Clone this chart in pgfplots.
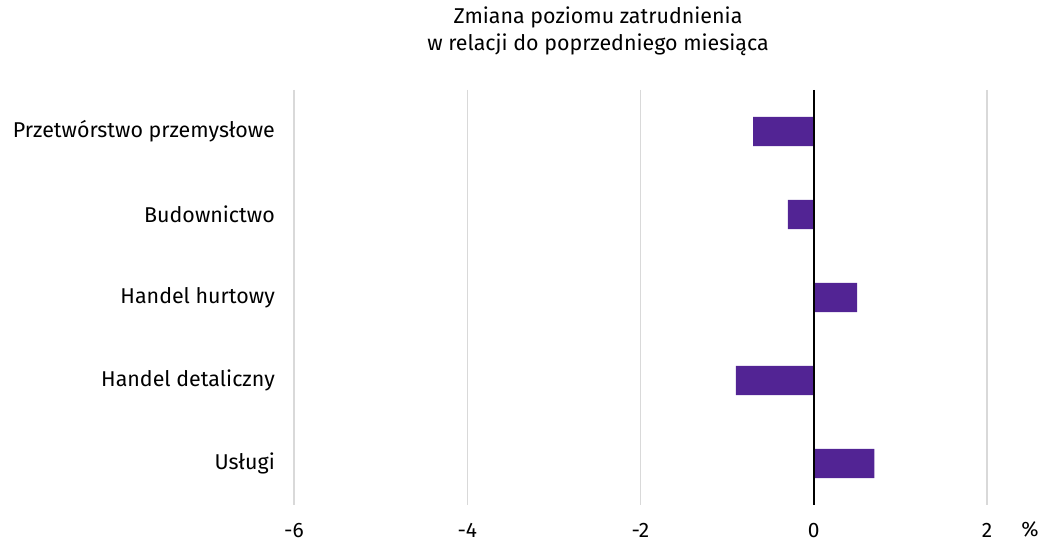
\documentclass[border=0pt]{standalone}
\usepackage{fontspec}
\setmainfont{Fira Sans}
\usepackage{pgfplots}
\pgfplotsset{compat=1.18}
\definecolor{barc}{RGB}{82,36,148}
\definecolor{gridc}{RGB}{217,217,217}
\pgfplotstableread{
y val
0 -0.70
1 -0.30
2 0.50
3 -0.90
4 0.70
}\datatab
\begin{document}
\begin{tikzpicture}[x=1bp,y=1bp]
\useasboundingbox (-294,-41) rectangle (753,505);
\begin{axis}[at={(0,0)}, anchor=south west, scale only axis,
  width=693bp, height=415bp,
  xmin=-6, xmax=2, ymin=-0.5, ymax=4.5, y dir=reverse,
  xtick={-6,-4,-2,0,2}, ytick={0,1,2,3,4},
  yticklabels={Przetwórstwo przemysłowe,Budownictwo,Handel hurtowy,Handel detaliczny,Usługi},
  axis line style={draw=none}, tick style={draw=none},
  xmajorgrids, grid style={gridc, line width=1.3bp},
  /pgf/number format/assume math mode=true,
  xticklabel style={font=\fontsize{21}{24}\selectfont, anchor=base, yshift=-32bp, inner sep=0pt},
  yticklabel style={font=\fontsize{21.5}{24}\selectfont, anchor=east, inner sep=0pt, xshift=-19bp},
  clip=false,
]
\addplot[xbar, bar width=0.35, fill=barc, draw=none] table[x=val, y=y] {\datatab};
\draw[black, line width=1.5bp] (axis cs:0,-0.5) -- (axis cs:0,4.5);
\end{axis}
\node[align=center, font=\fontsize{21.5}{27}\selectfont] at (304,473.5) {Zmiana poziomu zatrudnienia\\w relacji do poprzedniego miesiąca};
\node[font=\fontsize{21}{24}\selectfont, anchor=base] at (736,-32) {\%};
\end{tikzpicture}
\end{document}
